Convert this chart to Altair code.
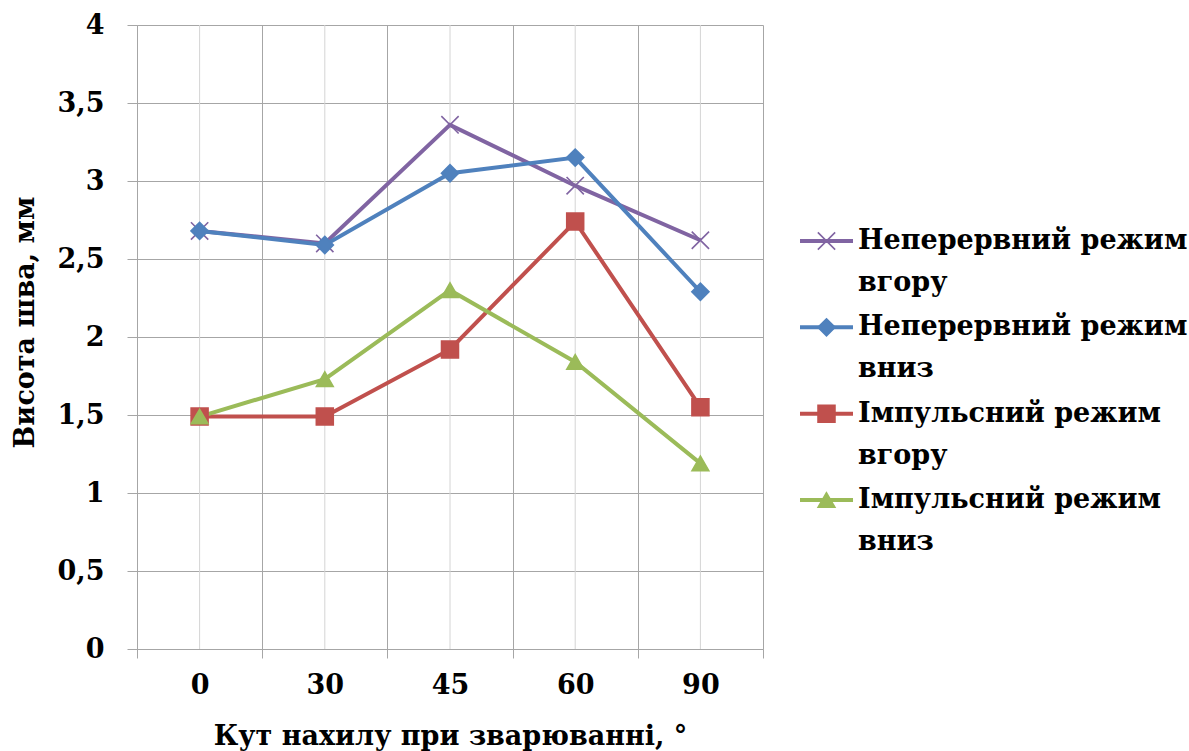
import altair as alt
import pandas as pd

angles = ["0", "30", "45", "60", "90"]
series = [
    "Неперервний режим вгору",
    "Неперервний режим вниз",
    "Імпульсний режим вгору",
    "Імпульсний режим вниз",
]
legend_line1 = ["Неперервний режим", "Неперервний режим", "Імпульсний режим", "Імпульсний режим"]
legend_line2 = ["вгору", "вниз", "вгору", "вниз"]

cont_up = [2.68, 2.60, 3.36, 2.97, 2.62]
cont_down = [2.68, 2.59, 3.05, 3.15, 2.29]
pulse_up = [1.49, 1.49, 1.92, 2.74, 1.55]
pulse_down = [1.49, 1.73, 2.30, 1.84, 1.19]

colors = ["#8064A2", "#4F81BD", "#C0504D", "#9BBB59"]
X_PATH = "M-1,-1L1,1M-1,1L1,-1"
shapes = [X_PATH, "diamond", "square", "triangle-up"]
sizes = [300, 280, 380, 400]

FONT = "'DejaVu Serif', 'Liberation Serif', serif"
FS = 27
GRID = "#a6a6a6"

rows = []
for name, vals in zip(series, [cont_up, cont_down, pulse_up, pulse_down]):
    for a, v in zip(angles, vals):
        rows.append({"angle": a, "value": v, "series": name})
df = pd.DataFrame(rows)

leg = pd.DataFrame({
    "series": series,
    "l1": legend_line1,
    "l2": legend_line2,
    "row": list(range(len(series))),
    "x0": [0.0] * 4,
    "x1": [1.0] * 4,
    "xm": [0.5] * 4,
})

xscale = alt.Scale(type="band", paddingInner=0, paddingOuter=0)
color_scale = alt.Scale(domain=series, range=colors)
shape_scale = alt.Scale(domain=series, range=shapes)
size_scale = alt.Scale(domain=series, range=sizes)

x_enc = alt.X(
    "angle:N", sort=angles, scale=xscale,
    axis=alt.Axis(
        title="Кут нахилу при зварюванні, °",
        labelAngle=0, labelAlign="center", labelBaseline="alphabetic",
        tickBand="extent", grid=True, gridColor=GRID,
        tickSize=9, tickColor=GRID, domainColor=GRID,
        labelFont=FONT, labelFontSize=FS, labelFontWeight="bold", labelColor="black",
        labelPadding=35,
        titleFont=FONT, titleFontSize=FS, titleFontWeight="bold", titleColor="black",
        titleY=95, titleBaseline="alphabetic",
    ),
)
y_enc = alt.Y(
    "value:Q", scale=alt.Scale(domain=[0, 4], nice=False),
    axis=alt.Axis(
        title="Висота шва, мм",
        values=[0, 0.5, 1, 1.5, 2, 2.5, 3, 3.5, 4],
        labelExpr="replace(toString(datum.value), '.', ',')",
        grid=True, gridColor=GRID, tickSize=10, tickColor=GRID, domainColor=GRID,
        labelFont=FONT, labelFontSize=FS, labelFontWeight="bold", labelColor="black",
        labelPadding=23,
        titleFont=FONT, titleFontSize=FS, titleFontWeight="bold", titleColor="black",
        titleX=-104, titleY=297, titleBaseline="alphabetic",
    ),
)

centers = alt.Chart(pd.DataFrame({"angle": angles})).mark_rule(
    color="#d4d4d4", strokeWidth=1
).encode(x=alt.X("angle:N", sort=angles, scale=xscale))

base = alt.Chart(df).encode(
    x=x_enc, y=y_enc,
    color=alt.Color("series:N", scale=color_scale, legend=None),
)
lines = base.mark_line(strokeWidth=4)
points = base.mark_point(filled=True, opacity=1, strokeWidth=1.6).encode(
    shape=alt.Shape("series:N", scale=shape_scale, legend=None),
    size=alt.Size("series:N", scale=size_scale, legend=None),
    stroke=alt.Stroke("series:N", scale=color_scale, legend=None),
)

main = alt.layer(centers, lines, points)

lx = alt.Scale(domain=[0, 1], range=[663, 716])
ly = alt.Scale(domain=[0, 3], range=[216, 475])
lbase = alt.Chart(leg).encode(y=alt.Y("row:Q", scale=ly, axis=None))
leg_line = lbase.mark_rule(strokeWidth=4).encode(
    x=alt.X("x0:Q", scale=lx, axis=None), x2="x1:Q",
    color=alt.Color("series:N", scale=color_scale, legend=None),
)
leg_pt = lbase.mark_point(filled=True, opacity=1, strokeWidth=1.6).encode(
    x=alt.X("xm:Q", scale=lx, axis=None),
    color=alt.Color("series:N", scale=color_scale, legend=None),
    stroke=alt.Stroke("series:N", scale=color_scale, legend=None),
    shape=alt.Shape("series:N", scale=shape_scale, legend=None),
    size=alt.Size("series:N", scale=size_scale, legend=None),
)
leg_t1 = lbase.mark_text(
    align="left", baseline="middle", dx=5, font=FONT, fontSize=FS, fontWeight="bold", color="black"
).encode(x=alt.X("x1:Q", scale=lx, axis=None), text="l1:N")
leg_t2 = lbase.mark_text(
    align="left", baseline="middle", dx=5, dy=42, font=FONT, fontSize=FS, fontWeight="bold", color="black"
).encode(x=alt.X("x1:Q", scale=lx, axis=None), text="l2:N")

legend = alt.layer(leg_line, leg_pt, leg_t1, leg_t2)

chart = alt.layer(main, legend).resolve_scale(
    x="independent", y="independent"
).properties(
    width=626, height=624,
    autosize=alt.AutoSizeParams(type="none"),
    padding={"left": 137, "top": 25, "right": 426, "bottom": 102},
    background="white",
).configure_view(stroke=None)

chart.save("out.html", embed_options={"renderer": "svg", "actions": False})
